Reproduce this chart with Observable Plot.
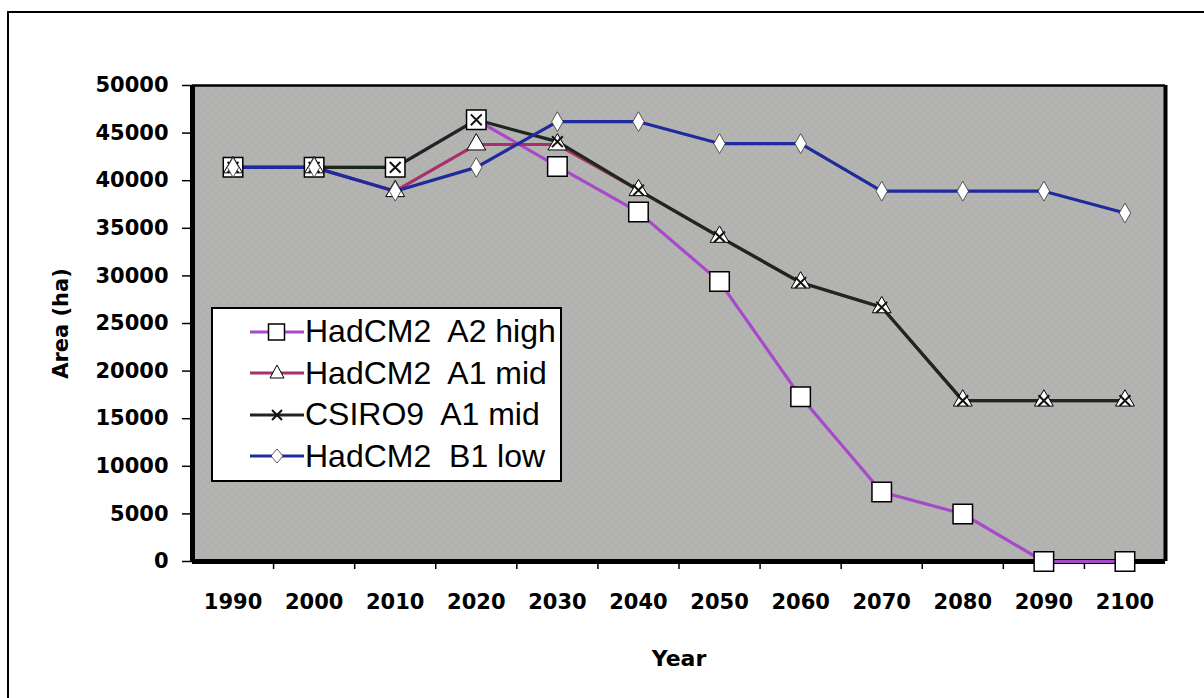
<!DOCTYPE html>
<html>
<head>
<meta charset="utf-8">
<script src="https://cdn.jsdelivr.net/npm/d3@7"></script>
<script src="https://cdn.jsdelivr.net/npm/@observablehq/plot@0.6"></script>
<style>
  body { margin: 0; background: #fff; }
  #wrap { position: relative; width: 1204px; height: 698px; overflow: hidden; background: #fff; }
  #wrap > svg { position: absolute; left: 0; top: 0; }
  #outer { position: absolute; left: 7px; top: 11px; right: -5px; bottom: -5px; border-left: 2px solid #000; border-top: 2px solid #000; pointer-events: none; }
  #legend { position: absolute; left: 211px; top: 307px; width: 347px; height: 169px; background: #fff; border: 2px solid #000; padding-top: 2px; box-sizing: content-box; }
  #legend .row { height: 41.5px; display: flex; align-items: center; }
  #legend .row svg { position: static; margin-left: 37px; flex: none; }
  #legend .row span { font-family: "Liberation Sans", Arial, sans-serif; font-size: 32px; white-space: pre; color: #000; line-height: 41.5px; margin-left: 1px; }
</style>
</head>
<body>
<div id="wrap"><div id="outer"></div></div>
<script>
// ---- data ----
const years = [1990, 2000, 2010, 2020, 2030, 2040, 2050, 2060, 2070, 2080, 2090, 2100];
const hadcm2A2High = [41400, 41400, 41400, 46400, 41500, 36700, 29400, 17300, 7300, 5000, 0, 0];
const hadcm2A1Mid  = [41400, 41400, 38900, 43800, 43800, 39000, 34100, 29300, 26700, 16900, 16900, 16900];
const csiro9A1Mid  = [41400, 41400, 41400, 46400, 44100, 39000, 34100, 29300, 26700, 16900, 16900, 16900];
const hadcm2B1Low  = [41400, 41400, 38900, 41400, 46200, 46200, 43900, 43900, 38900, 38900, 38900, 36600];
const seriesNames = ["HadCM2  A2 high", "HadCM2  A1 mid", "CSIRO9  A1 mid", "HadCM2  B1 low"];
const seriesColors = ["#a64ac9", "#a8306a", "#1c281c", "#1f2a9c"];
const yTicks = [0, 5000, 10000, 15000, 20000, 25000, 30000, 35000, 40000, 45000, 50000];
const xBoundaryTicks = [1995, 2005, 2015, 2025, 2035, 2045, 2055, 2065, 2075, 2085, 2095];
const xDomain = [1985, 2105];
const yDomain = [0, 50000];

const seriesValues = [hadcm2A2High, hadcm2A1Mid, csiro9A1Mid, hadcm2B1Low];
const data = [];
seriesNames.forEach((name, i) => years.forEach((yr, j) => data.push({series: name, year: yr, area: seriesValues[i][j]})));
const bySeries = (i) => data.filter(d => d.series === seriesNames[i]);

const chart = Plot.plot({
  width: 1204,
  height: 698,
  marginLeft: 192,
  marginRight: 39,
  marginTop: 85,
  marginBottom: 137,
  style: {fontFamily: "DejaVu Sans", background: "transparent", overflow: "visible"},
  x: {domain: xDomain, label: null},
  y: {domain: yDomain, label: null},
  color: {domain: seriesNames, range: seriesColors},
  marks: [
    Plot.frame({fill: "url(#dither)", stroke: null}),
    Plot.axisY(yTicks, {tickSize: 10, tickPadding: 14, fontSize: 21, fontWeight: "bold", label: null, tickFormat: d => String(d), strokeWidth: 1.5}),
    Plot.axisX(years, {tickSize: 0, tickPadding: 33, fontSize: 21, fontWeight: "bold", label: null, tickFormat: d => String(d)}),
    Plot.axisX(xBoundaryTicks, {tickSize: 8, tickFormat: () => "", label: null, strokeWidth: 1.5}),
    Plot.ruleY([yDomain[1]], {strokeWidth: 2.5}),
    Plot.ruleY([yDomain[0]], {strokeWidth: 5}),
    Plot.ruleX([xDomain[0]], {strokeWidth: 5}),
    Plot.ruleX([xDomain[1]], {strokeWidth: 4}),
    Plot.line(data, {x: "year", y: "area", z: "series", stroke: "series", strokeWidth: 3.2}),
    Plot.dot(bySeries(0), {x: "year", y: "area", symbol: "square", r: 11, fill: "white", stroke: "black", strokeWidth: 1.5}),
    Plot.dot(bySeries(1), {x: "year", y: "area", symbol: "triangle", r: 7, fill: "white", stroke: "black", strokeWidth: 1}),
    Plot.dot(bySeries(2), {x: "year", y: "area", symbol: "times", r: 5, stroke: "#111", strokeWidth: 2}),
    Plot.dot(bySeries(3), {x: "year", y: "area", symbol: "diamond", r: 6, fill: "white", stroke: "#333", strokeWidth: 0.8}),
    Plot.text(["Year"], {frameAnchor: "bottom", dy: 97, lineAnchor: "middle", fontSize: 22, fontWeight: "bold"}),
    Plot.text(["Area (ha)"], {frameAnchor: "left", dx: -131, rotate: -90, textAnchor: "middle", lineAnchor: "middle", fontSize: 21, fontWeight: "bold"})
  ]
});

const svg = chart.tagName.toLowerCase() === "svg" ? chart : chart.querySelector("svg");
const defs = d3.select(svg).insert("defs", ":first-child");
const pat = defs.append("pattern").attr("id", "dither").attr("width", 8).attr("height", 8).attr("patternUnits", "userSpaceOnUse");
pat.append("rect").attr("width", 8).attr("height", 8).attr("fill", "#bcbcbc");
for (let px = 0; px < 8; px++) {
  for (let py = 0; py < 8; py++) {
    if ((px + py) % 2 === 0) {
      pat.append("rect").attr("x", px).attr("y", py).attr("width", 1).attr("height", 1).attr("fill", "#a8a8a8");
    }
  }
}
pat.append("rect").attr("x", 3).attr("y", 2).attr("width", 1).attr("height", 1).attr("fill", "#d8d890");
pat.append("rect").attr("x", 7).attr("y", 6).attr("width", 1).attr("height", 1).attr("fill", "#d8d890");

const wrap = document.getElementById("wrap");
wrap.insertBefore(chart, wrap.firstChild);

// ---- legend ----
const legend = document.createElement("div");
legend.id = "legend";
const symbols = ["square", "triangle", "times", "diamond"];
seriesNames.forEach((name, i) => {
  const row = document.createElement("div");
  row.className = "row";
  const s = d3.create("svg").attr("width", 54).attr("height", 30);
  s.append("line").attr("x1", 0).attr("x2", 54).attr("y1", 15).attr("y2", 15).attr("stroke", seriesColors[i]).attr("stroke-width", 3.2);
  const sym = symbols[i];
  if (sym === "square") s.append("rect").attr("x", 18.5).attr("y", 7).attr("width", 16).attr("height", 16).attr("fill", "white").attr("stroke", "black").attr("stroke-width", 1.5);
  if (sym === "triangle") s.append("path").attr("d", "M27,7 L34,20 L20,20 Z").attr("fill", "white").attr("stroke", "black").attr("stroke-width", 1);
  if (sym === "times") s.append("path").attr("d", "M22,10 L32,20 M32,10 L22,20").attr("stroke", "#111").attr("stroke-width", 2);
  if (sym === "diamond") s.append("path").attr("d", "M27,8 L33,15 L27,22 L21,15 Z").attr("fill", "white").attr("stroke", "#333").attr("stroke-width", 0.8);
  row.appendChild(s.node());
  const t = document.createElement("span");
  t.textContent = name;
  row.appendChild(t);
  legend.appendChild(row);
});
wrap.appendChild(legend);
</script>
</body>
</html>
